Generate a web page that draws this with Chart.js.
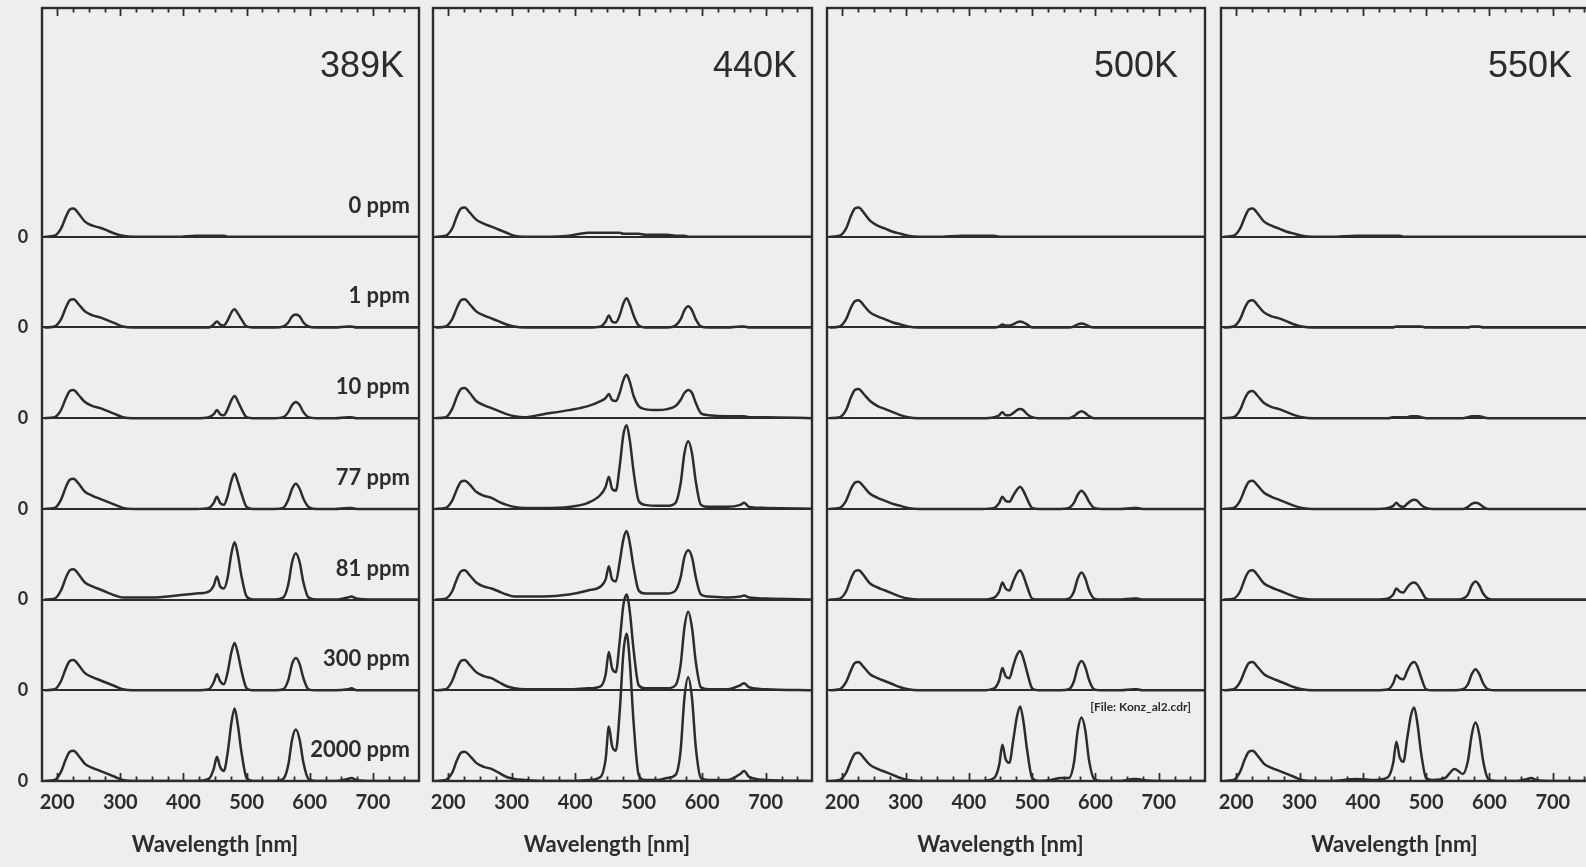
<!DOCTYPE html>
<html><head><meta charset="utf-8">
<script src="https://cdn.jsdelivr.net/npm/chart.js@4.4.1/dist/chart.umd.min.js"></script>
<style>
html,body{margin:0;padding:0;background:#eeeeec;overflow:hidden;width:1586px;height:867px;position:relative;}
canvas{position:absolute;top:0;}
</style></head><body>
<canvas id="c0"></canvas><canvas id="c1"></canvas><canvas id="c2"></canvas><canvas id="c3"></canvas>
<script>
// ---------- DATA ----------
const wavelengths = [180,196,206,214,220,226,234,244,256,268,280,292,304,320,
  350,390,420,440,
  448,453,458,464,470,476,481,486,492,500,510,
  530,545,
  558,566,572,578,584,590,598,610,
  640,660,666,674,700,775];
const concentrations = ['0 ppm','1 ppm','10 ppm','77 ppm','81 ppm','300 ppm','2000 ppm'];
const temperatures = ['389K','440K','500K','550K'];
const xTickValues = [200,300,400,500,600,700];
const xTitle = 'Wavelength [nm]';
const fileNote = '[File: Konz_al2.cdr]';

// 389 K
const s389_0    = [0,1,8,20,27,28,23,15,11,9,6,3,1,0, 0,0,1,1, 1,1,1,1,0,0,0,0,0,0,0, 0,0, 0,0,0,0,0,0,0,0, 0,0,0,0,0,0];
const s389_1    = [0,1,8,20,27,28,23,16,12,10,7,4,1,0, 0,0,0,0, 3,6,3,2,7,15,18,14,8,1,0, 0,0, 1,5,11,13,11,5,1,0, 0,1,1,0,0,0];
const s389_10   = [0,1,8,20,27,28,23,16,12,10,7,4,1,0, 0,0,0,1, 4,8,4,3,9,18,22,17,9,1,0, 0,0, 1,6,13,16,13,6,1,0, 0,1,1,0,0,0];
const s389_77   = [0,1,9,22,29,30,25,17,13,10,7,4,1,0, 0,0,0,1, 6,12,6,4,13,28,35,27,15,2,0, 0,0, 1,9,20,25,20,10,2,0, 0,1,1,0,0,0];
const s389_81   = [0,1,9,22,29,30,25,17,13,10,7,4,2,2, 2,4,6,8, 14,23,13,11,22,46,57,45,23,3,0, 0,0, 2,15,37,46,37,17,2,0, 0,2,3,1,0,0];
const s389_300  = [0,1,9,22,29,30,25,17,13,10,7,4,1,0, 0,0,0,1, 8,16,9,6,18,38,47,37,19,2,0, 0,0, 1,10,26,32,26,12,1,0, 0,1,2,0,0,0];
const s389_2000 = [0,1,9,22,29,30,25,17,13,10,7,4,1,0, 0,0,0,2, 12,24,14,10,28,58,72,56,28,3,0, 0,0, 2,16,41,51,41,18,2,0, 0,2,3,1,0,0];
// 440 K
const s440_0    = [0,1,8,21,28,29,24,17,13,10,7,4,1,0, 0,1,4,4, 4,4,4,4,4,3,3,3,3,3,2, 2,2, 1,1,1,0,0,0,0,0, 0,0,0,0,0,0];
const s440_1    = [0,1,8,20,27,28,23,16,12,9,6,3,1,0, 0,0,0,1, 6,12,6,5,12,24,29,23,12,2,0, 0,0, 2,8,17,21,17,8,1,0, 0,1,1,0,0,0];
const s440_10   = [0,1,9,22,29,30,25,17,13,10,7,4,2,1, 4,8,12,17, 20,24,18,17,25,38,43,36,22,12,9, 8,9, 12,18,25,28,25,15,5,3, 2,2,2,1,1,0];
const s440_77   = [0,1,8,20,27,28,24,17,13,11,7,4,2,1, 1,2,6,14, 22,32,20,18,42,74,83,68,37,8,4, 3,3, 6,25,55,67,55,27,4,2, 2,4,6,2,1,0];
const s440_81   = [0,1,8,21,28,29,24,17,13,11,8,5,3,3, 3,5,9,13, 20,33,20,18,37,60,68,56,32,9,6, 6,6, 9,22,42,49,42,22,5,3, 2,3,4,2,1,0];
const s440_300  = [0,1,9,22,29,30,25,18,14,12,8,4,2,1, 1,1,2,4, 16,38,22,18,48,85,95,78,40,5,2, 2,2, 5,25,62,78,62,28,3,1, 1,5,7,3,1,0];
const s440_2000 = [0,1,8,21,28,29,25,18,14,12,8,4,2,1, 0,0,1,4, 22,54,35,30,68,128,146,118,58,6,1, 1,3, 6,30,82,103,82,33,3,1, 1,7,10,4,1,0];
// 500 K
const s500_0    = [0,1,8,21,28,29,24,16,11,8,5,3,1,0, 0,1,1,1, 0,0,0,0,0,0,0,0,0,0,0, 0,0, 0,0,0,0,0,0,0,0, 0,0,0,0,0,0];
const s500_1    = [0,1,8,20,26,27,22,15,11,8,5,3,1,0, 0,0,0,0, 1,3,2,2,3,5,6,5,3,0,0, 0,0, 0,1,3,4,3,1,0,0, 0,0,0,0,0,0];
const s500_10   = [0,1,8,21,28,29,24,17,12,9,6,3,1,0, 0,0,0,1, 3,6,3,3,5,8,9,8,4,1,0, 0,0, 0,2,5,7,5,2,0,0, 0,0,0,0,0,0];
const s500_77   = [0,1,8,20,26,27,22,15,11,8,5,3,1,0, 0,0,0,1, 6,12,8,7,13,19,22,18,10,1,0, 0,0, 1,6,14,18,14,7,1,0, 0,1,1,0,0,0];
const s500_81   = [0,1,8,21,28,29,24,16,12,9,6,3,1,0, 0,0,0,2, 8,17,11,9,18,26,29,24,13,1,0, 0,0, 1,8,21,27,21,9,1,0, 0,1,1,0,0,0];
const s500_300  = [0,1,8,20,27,28,23,16,12,9,6,3,1,0, 0,0,0,2, 10,22,14,12,24,35,39,32,18,2,0, 0,0, 1,9,23,29,23,10,1,0, 0,1,1,0,0,0];
const s500_2000 = [0,1,8,20,27,28,23,16,12,9,6,3,1,0, 0,0,0,3, 16,36,22,18,40,64,74,60,31,3,0, 1,3, 3,18,50,63,50,20,2,0, 0,2,2,1,0,0];
// 550 K
const s550_0    = [0,1,8,20,27,28,23,15,11,8,5,3,1,0, 0,1,1,1, 1,1,1,0,0,0,0,0,0,0,0, 0,0, 0,0,0,0,0,0,0,0, 0,0,0,0,0,0];
const s550_1    = [0,1,8,20,26,27,22,15,11,9,6,3,1,0, 0,0,0,0, 0,1,1,1,1,1,1,1,1,0,0, 0,0, 0,0,1,1,1,0,0,0, 0,0,0,0,0,0];
const s550_10   = [0,1,8,20,26,27,22,15,11,9,6,3,1,0, 0,0,0,0, 1,1,1,1,1,2,2,2,1,0,0, 0,0, 0,1,2,2,2,1,0,0, 0,0,0,0,0,0];
const s550_77   = [0,1,8,20,27,28,23,16,12,9,6,3,1,0, 0,0,0,1, 3,6,3,2,5,8,9,8,4,1,0, 0,0, 0,2,5,6,5,2,0,0, 0,0,0,0,0,0];
const s550_81   = [0,1,8,21,28,29,24,16,12,9,6,3,1,0, 0,0,0,1, 5,11,8,7,12,16,17,15,9,1,0, 0,0, 1,5,14,18,14,6,1,0, 0,0,0,0,0,0];
const s550_300  = [0,1,8,20,27,28,23,16,12,9,6,3,1,0, 0,0,0,1, 7,15,12,11,19,26,28,24,13,1,0, 0,0, 1,6,16,21,16,7,1,0, 0,0,0,0,0,0];
const s550_2000 = [0,1,9,22,29,30,25,17,13,10,7,4,1,0, 0,2,1,4, 18,39,24,19,42,65,73,58,28,3,1, 3,12, 7,20,46,58,46,20,2,0, 0,2,3,1,0,0];

const seriesByTemp = [
  [s389_0,s389_1,s389_10,s389_77,s389_81,s389_300,s389_2000],
  [s440_0,s440_1,s440_10,s440_77,s440_81,s440_300,s440_2000],
  [s500_0,s500_1,s500_10,s500_77,s500_81,s500_300,s500_2000],
  [s550_0,s550_1,s550_10,s550_77,s550_81,s550_300,s550_2000]
];

// ---------- LAYOUT / STYLE ----------
const INK = '#2c2c2c';
const ROW_STEP = 90;          // vertical offset between stacked spectra (a.u.)
const Y_MAX = 767;
const X_MIN = 176, X_MAX = 773;
const PANEL_LEFT = [42, 433, 827, 1221];
const PANEL_W = [377, 379, 378, 378];
const PAD_L = 40, PAD_R = 2, PAD_T = 8, XAXIS_H = 86, H = 867;
const TEMP_RIGHT = [362, 364, 351, 351];
const HUMANIST = 'Lato, "Open Sans", sans-serif';

function rowOffset(i){ return (concentrations.length - 1 - i) * ROW_STEP; }

const decorPlugin = {
  id: 'decor',
  beforeDatasetsDraw(chart) {
    const {ctx, chartArea: a, scales: {y}} = chart;
    ctx.save();
    ctx.strokeStyle = INK; ctx.lineWidth = 2.2;
    concentrations.forEach((c, i) => {
      const py = Math.round(y.getPixelForValue(rowOffset(i)));
      ctx.beginPath(); ctx.moveTo(a.left, py); ctx.lineTo(a.right, py); ctx.stroke();
    });
    ctx.restore();
  },
  afterDraw(chart) {
    const {ctx, chartArea: a, scales: {x, y}} = chart;
    const p = chart.options.plugins.decor;
    ctx.save();
    ctx.strokeStyle = INK; ctx.lineWidth = 2.4;
    ctx.strokeRect(a.left, a.top, a.right - a.left, a.bottom - a.top);
    // inward ticks top & bottom
    ctx.lineWidth = 1.8;
    for (let v = 200; v <= 750; v += 25) {
      const px = Math.round(x.getPixelForValue(v)) + 0.5;
      const len = v % 100 === 0 ? 8 : 4.5;
      ctx.beginPath(); ctx.moveTo(px, a.top); ctx.lineTo(px, a.top + len); ctx.stroke();
      ctx.beginPath(); ctx.moveTo(px, a.bottom); ctx.lineTo(px, a.bottom - len); ctx.stroke();
    }
    ctx.fillStyle = INK;
    // temperature label
    ctx.font = '36px "Liberation Sans", Arial, sans-serif';
    ctx.textAlign = 'right'; ctx.textBaseline = 'alphabetic';
    ctx.fillText(p.temp, a.left + p.tempRight, a.top + 69);
    // x title
    ctx.font = 'bold 22px ' + HUMANIST;
    ctx.textAlign = 'center'; ctx.textBaseline = 'middle';
    ctx.fillText(xTitle, x.getPixelForValue(450), 845);
    if (p.first) {
      concentrations.forEach((c, i) => {
        const py = y.getPixelForValue(rowOffset(i));
        ctx.font = 'bold 18px ' + HUMANIST;
        ctx.textAlign = 'center'; ctx.textBaseline = 'middle';
        ctx.fillText('0', a.left - 19, py);
        ctx.font = 'bold 22px ' + HUMANIST;
        ctx.textAlign = 'right'; ctx.textBaseline = 'alphabetic';
        ctx.fillText(c, a.right - 9, py - 24);
      });
    }
    if (p.note) {
      const py = y.getPixelForValue(rowOffset(5));
      ctx.font = 'bold 12px ' + HUMANIST;
      ctx.textAlign = 'right'; ctx.textBaseline = 'middle';
      ctx.fillText(fileNote, a.right - 14, py + 17);
    }
    ctx.restore();
  }
};

temperatures.forEach((t, k) => {
  const cv = document.getElementById('c' + k);
  const w = PAD_L + PANEL_W[k] + PAD_R;
  cv.width = w; cv.height = H;
  cv.style.left = (PANEL_LEFT[k] - PAD_L) + 'px';
  cv.style.width = w + 'px'; cv.style.height = H + 'px';
  const datasets = seriesByTemp[k].map((s, i) => ({
    label: t + ' ' + concentrations[i],
    data: wavelengths.map((wl, j) => ({x: wl, y: s[j] + rowOffset(i)})),
    borderColor: INK, borderWidth: 2.5, pointRadius: 0, fill: false,
    cubicInterpolationMode: 'monotone'
  }));
  new Chart(cv, {
    type: 'line',
    data: {datasets},
    options: {
      responsive: false, animation: false, devicePixelRatio: 1,
      layout: {padding: {left: PAD_L, right: PAD_R, top: PAD_T, bottom: 0}},
      plugins: {legend: {display: false}, tooltip: {enabled: false},
        decor: {temp: t, tempRight: TEMP_RIGHT[k], first: k === 0, note: k === 2}},
      scales: {
        x: {type: 'linear', min: X_MIN, max: X_MAX,
          afterBuildTicks: s => { s.ticks = xTickValues.map(v => ({value: v})); },
          afterFit: s => { s.height = XAXIS_H; },
          grid: {display: false, drawTicks: false}, border: {display: false},
          ticks: {padding: 10, color: INK, autoSkip: false, maxRotation: 0,
            font: {family: HUMANIST, size: 20, weight: 'bold'}}},
        y: {display: false, min: 0, max: Y_MAX}
      }
    },
    plugins: [decorPlugin]
  });
});
</script>
</body></html>
